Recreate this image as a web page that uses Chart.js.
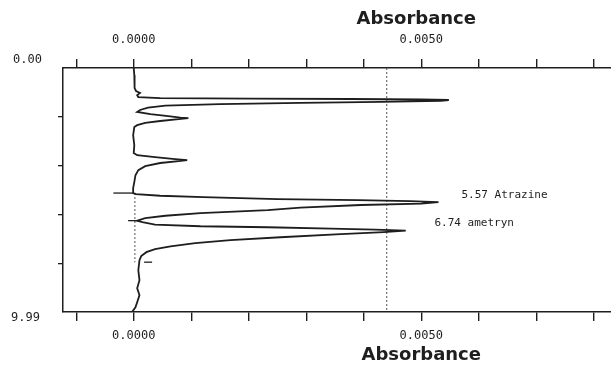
<!DOCTYPE html>
<html lang="en">
<head>
<meta charset="UTF-8">
<title>Absorbance chromatogram</title>
<script src="https://cdn.jsdelivr.net/npm/chart.js"></script>
<style>
  body { margin: 0; background: #fff; }
  #wrap { width: 611px; height: 367px; position: relative; }
</style>
</head>
<body>
<div id="wrap"><canvas id="chart"></canvas></div>
<script>
// retention time (min) and absorbance of the trace
const traceTime = [
  0.00, 0.29, 0.57, 0.82, 0.94, 1.02, 1.11, 1.19,
  1.23, 1.25, 1.27, 1.29, 1.31,
  1.35, 1.39, 1.43, 1.48, 1.54, 1.62, 1.72, 1.80,
  1.89, 1.97, 2.03, 2.05, 2.09, 2.17, 2.25, 2.34, 2.42,
  2.75, 3.16, 3.48,
  3.57, 3.65, 3.73, 3.77, 3.81, 3.89, 4.02, 4.18, 4.39, 4.67, 4.92, 5.12,
  5.16, 5.23, 5.29, 5.37, 5.41, 5.45, 5.49,
  5.55, 5.61, 5.72, 5.82, 5.94, 6.05, 6.15, 6.25,
  6.31, 6.41, 6.48, 6.52, 6.58, 6.62, 6.66,
  6.72, 6.80, 6.93, 7.05, 7.17, 7.30, 7.42, 7.54, 7.70, 7.87,
  8.28, 8.69, 9.02, 9.30, 9.59, 9.80, 9.99
];
const traceAbs = [
  0.00000, 0.00001, 0.00002, 0.00001, 0.00004, 0.00011, 0.00006, 0.00008,
  0.00046, 0.00203, 0.00378, 0.00500, 0.00548,
  0.00534, 0.00430, 0.00290, 0.00150, 0.00055, 0.00025, 0.00011, 0.00006,
  0.00029, 0.00060, 0.00081, 0.00095, 0.00078, 0.00046, 0.00020, 0.00006, 0.00001,
  -0.00001, 0.00001, 0.00000,
  0.00006, 0.00037, 0.00072, 0.00093, 0.00078, 0.00046, 0.00020, 0.00008, 0.00003, 0.00001, -0.00001, -0.00001,
  0.00004, 0.00046, 0.00121, 0.00250, 0.00390, 0.00480, 0.00530,
  0.00500, 0.00395, 0.00290, 0.00233, 0.00116, 0.00055, 0.00020, 0.00006,
  0.00015, 0.00037, 0.00116, 0.00233, 0.00343, 0.00420, 0.00473,
  0.00435, 0.00360, 0.00255, 0.00168, 0.00107, 0.00064, 0.00037, 0.00022, 0.00013, 0.00010,
  0.00008, 0.00010, 0.00006, 0.00010, 0.00006, 0.00003, -0.00003
];

// integration marks on the trace
const markTime = [5.12, 6.25, 7.95];
const markAbs = [-0.00018, -0.00001, 0.00025];

// dotted reference lines
const refAbs = [0.0044, 0.00002];
const refFrom = [0, 5.12];
const refTo = [9.99, 7.95];

// peak labels
const peakTimes = [5.57, 6.74];
const peakNames = ['Atrazine', 'ametryn'];

// axis ticks
const xTickValues = [-0.001, 0, 0.001, 0.002, 0.003, 0.004, 0.005, 0.006, 0.007, 0.008];
const xTickLabels = ['', '0.0000', '', '', '', '', '0.0050', '', '', ''];
const yTickValues = [2, 4, 6, 8];
const yEndLabels = ['0.00', '9.99'];

const ink = '#1e1e1e';

const traceData = traceTime.map((t, i) => ({ x: traceAbs[i], y: t }));
const markData = markTime.map((t, i) => ({ x: markAbs[i], y: t }));
const refSets = refAbs.map((a, i) => ({
    data: [{ x: a, y: refFrom[i] }, { x: a, y: refTo[i] }],
    showLine: true,
    borderColor: '#555',
    borderWidth: 1,
    borderDash: [2, 2],
    pointRadius: 0
}));

function xAxis(pos, height, pad) {
    return {
        type: 'linear',
        position: pos,
        min: -0.00123,
        max: 0.0083,
        afterBuildTicks: s => { s.ticks = xTickValues.map(v => ({ value: v })); },
        afterFit: s => { s.height = height; },
        ticks: {
            autoSkip: false,
            maxRotation: 0,
            padding: pad,
            color: ink,
            font: { family: 'DejaVu Sans Mono', size: 12 },
            callback: (v, i) => xTickLabels[i]
        },
        grid: { drawOnChartArea: false, tickLength: 9, color: ink, lineWidth: 1.4 },
        border: { display: true, color: ink, width: 1.5 }
    };
}

// axis titles, end labels on the time axis and peak names
const textPlugin = {
    id: 'texts',
    afterDraw(chart) {
        const ctx = chart.ctx;
        const x = chart.scales.x;
        const y = chart.scales.y;
        const area = chart.chartArea;
        ctx.save();
        ctx.fillStyle = ink;
        ctx.textBaseline = 'middle';

        ctx.font = 'bold 18px "DejaVu Sans"';
        ctx.textAlign = 'center';
        ctx.fillText('Absorbance', x.getPixelForValue(0.005) - 5, 19);
        ctx.fillText('Absorbance', x.getPixelForValue(0.005), 355);

        ctx.font = '12px "DejaVu Sans Mono"';
        ctx.textAlign = 'right';
        ctx.fillText(yEndLabels[0], area.left - 21, y.getPixelForValue(0) - 8);
        ctx.fillText(yEndLabels[1], area.left - 23, y.getPixelForValue(9.99) + 6);

        ctx.font = '11px "DejaVu Sans Mono"';
        ctx.textAlign = 'left';
        const labelAt = [[0.00570, 5.22], [0.00523, 6.37]];
        peakTimes.forEach((t, i) => {
            ctx.fillText(t.toFixed(2) + ' ' + peakNames[i],
                x.getPixelForValue(labelAt[i][0]), y.getPixelForValue(labelAt[i][1]));
        });
        ctx.restore();
    }
};

new Chart(document.getElementById('chart'), {
    type: 'scatter',
    data: {
        datasets: [
            {
                data: traceData,
                showLine: true,
                borderColor: ink,
                borderWidth: 1.8,
                pointRadius: 0,
                tension: 0
            },
            {
                data: markData,
                showLine: false,
                pointStyle: 'line',
                pointRadius: [10, 5, 4],
                borderColor: ink,
                borderWidth: 1.3
            },
            ...refSets
        ]
    },
    options: {
        responsive: true,
        maintainAspectRatio: false,
        animation: false,
        layout: { padding: 0, autoPadding: false },
        plugins: { legend: { display: false }, tooltip: { enabled: false } },
        scales: {
            x: xAxis('bottom', 55, 8),
            x2: xAxis('top', 68, 12),
            y: {
                type: 'linear',
                reverse: true,
                min: 0,
                max: 9.99,
                afterBuildTicks: s => { s.ticks = yTickValues.map(v => ({ value: v })); },
                afterFit: s => { s.width = 63; },
                ticks: { callback: () => '' },
                grid: { drawOnChartArea: false, tickLength: 5, color: ink, lineWidth: 1.3 },
                border: { display: true, color: ink, width: 1.5 }
            }
        }
    },
    plugins: [textPlugin]
});
</script>
</body>
</html>
